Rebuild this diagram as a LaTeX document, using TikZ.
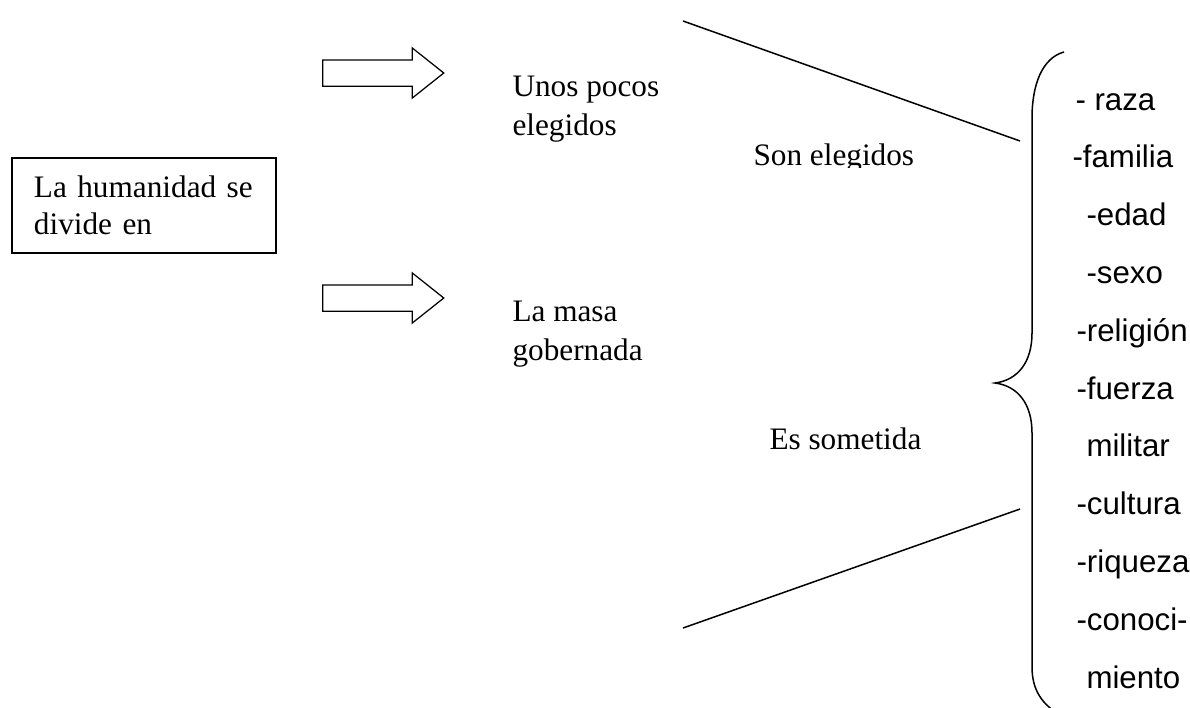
\documentclass[tikz,border=0pt]{standalone}
\usepackage{fontspec}
\setmainfont{Liberation Serif}
\newfontfamily\listfont{Liberation Sans}
\usetikzlibrary{shapes,arrows,positioning}

\begin{document}
\begin{tikzpicture}[
    x=0.4pt, y=-0.4pt,
    humbox/.style={rectangle, draw, line width=0.8pt, minimum width=105.6pt, minimum height=38pt,
                   text width=88pt, align=left, inner sep=0pt, font=\fontsize{12.5}{14.8}\selectfont},
    bigarrow/.style={single arrow, draw, line width=0.5pt, minimum height=48.4pt,
                     inner xsep=0pt, inner ysep=5pt,
                     single arrow head extend=4.8pt, single arrow tip angle=77},
    txt/.style={anchor=north west, inner sep=0pt, align=left, font=\fontsize{12.5}{15.5}\selectfont},
    item/.style={anchor=base west, inner sep=0pt, font=\listfont\fontsize{12.5}{15}\selectfont},
    link/.style={line width=0.6pt}
]
\useasboundingbox (0,0) rectangle (1190,707);

% Box and arrows
\node[humbox] (humanidad) at (144, 205) {La humanidad se\\divide en};
\node[bigarrow] (flecha1) at (375, 73) {};
\node[bigarrow] (flecha2) at (375, 298) {};

% Groups
\node[txt] (pocos) at (512, 76) {Unos pocos\\elegidos};
\node[txt] (masa) at (512, 301) {La masa\\gobernada};
\begin{scope}
\clip (740, 100) rectangle (960, 167);
\node[txt, anchor=base west] (elegidos) at (753, 165) {Son elegidos};
\end{scope}
\node[txt, anchor=base west] (sometida) at (769, 449) {Es sometida};

% Lines to the brace
\coordinate (l1a) at (683, 21);
\coordinate (l1b) at (1020, 141);
\coordinate (l2a) at (683, 628);
\coordinate (l2b) at (1020, 509);
\draw[link] (l1a) -- (l1b);
\draw[link] (l2a) -- (l2b);

% Brace
\draw[link] (1064, 52) .. controls (1042, 58) and (1032, 85) .. (1032, 118) -- (1032, 333)
    .. controls (1032, 362) and (1018, 380) .. (995, 383)
    .. controls (1018, 386) and (1032, 404) .. (1032, 433) -- (1032, 667)
    .. controls (1032, 690) and (1042, 705) .. (1062, 716);

% Criteria
\node[item] (raza) at (1075, 110) {- raza};
\node[item] (familia) at (1072, 167.8) {-familia};
\node[item] (edad) at (1086, 225.6) {-edad};
\node[item] (sexo) at (1086, 283.4) {-sexo};
\node[item] (religion) at (1076, 341.2) {-religión};
\node[item] (fuerza) at (1076, 399) {-fuerza};
\node[item] (militar) at (1086, 456.8) {militar};
\node[item] (cultura) at (1076, 514.6) {-cultura};
\node[item] (riqueza) at (1076, 572.4) {-riqueza};
\node[item] (conoci) at (1076, 630.2) {-conoci-};
\node[item] (miento) at (1086, 688) {miento};

\end{tikzpicture}
\end{document}
